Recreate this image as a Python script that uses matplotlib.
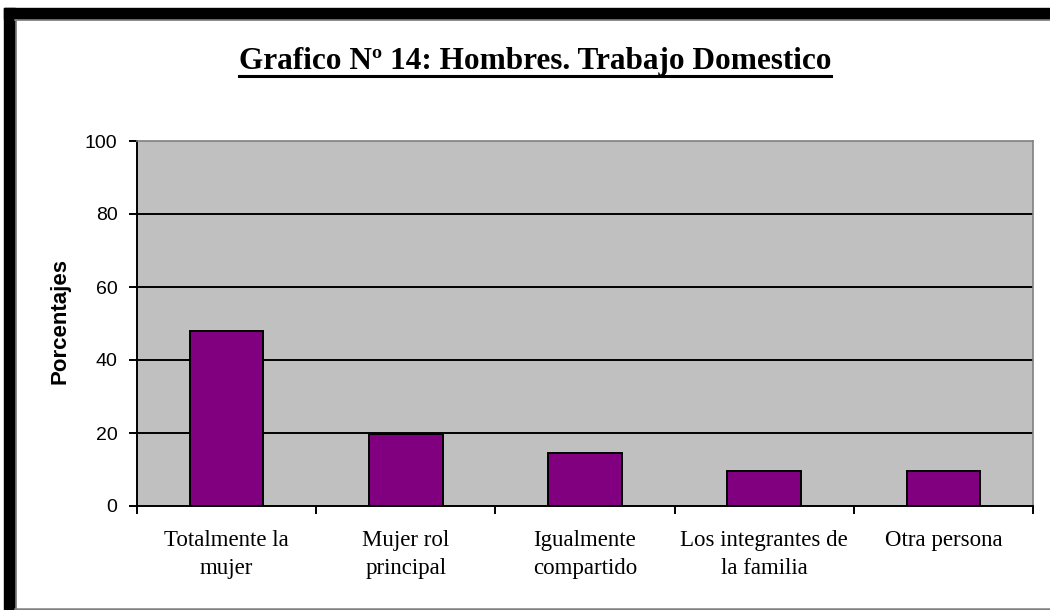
import matplotlib
matplotlib.use("Agg")
import matplotlib.pyplot as plt
from matplotlib.patches import Rectangle
from matplotlib.lines import Line2D

categories = ["Totalmente la\nmujer", "Mujer rol\nprincipal", "Igualmente\ncompartido",
              "Los integrantes de\nla familia", "Otra persona"]
values = [47.9, 19.7, 14.5, 9.6, 9.6]
yticks = [0, 20, 40, 60, 80, 100]
title = "Grafico Nº 14: Hombres. Trabajo Domestico"
ylabel = "Porcentajes"

W, H = 1050, 610
fig = plt.figure(figsize=(W / 100, H / 100), dpi=100)
fig.patch.set_facecolor("white")

def fx(px):
    return px / W

def fy(py):
    return 1 - py / H

# frame decoration (black shadow border)
fig.patches.append(Rectangle((fx(4), fy(19)), fx(1050) - fx(4), fy(8) - fy(19),
                             transform=fig.transFigure, color="black", zorder=0))
fig.patches.append(Rectangle((fx(4), fy(610)), fx(15) - fx(4), fy(8) - fy(610),
                             transform=fig.transFigure, color="black", zorder=0))
fig.lines.append(Line2D([fx(15), 1], [fy(20), fy(20)], transform=fig.transFigure,
                        color="#808080", lw=1.2))
fig.lines.append(Line2D([fx(16), fx(16)], [fy(20), 0], transform=fig.transFigure,
                        color="#808080", lw=1.2))
fig.lines.append(Line2D([fx(15), 1], [fy(608.5), fy(608.5)], transform=fig.transFigure,
                        color="#808080", lw=1.8))

ax = fig.add_axes([fx(137), fy(506), fx(1033) - fx(137), fy(141) - fy(506)])
ax.set_facecolor("#C0C0C0")

x = list(range(len(categories)))
ax.bar(x, values, width=0.41, color="#800080", edgecolor="black", linewidth=1.4, zorder=3)

ax.set_xlim(-0.5, len(categories) - 0.5)
ax.set_ylim(0, 100)
ax.set_yticks(yticks)
ax.set_yticklabels([str(v) for v in yticks], fontfamily="Liberation Sans", fontsize=14)
for v in yticks[1:-1]:
    ax.axhline(v, color="black", lw=1.4, zorder=2)

ax.set_xticks([i - 0.5 for i in range(len(categories) + 1)], minor=False)
ax.set_xticklabels([""] * (len(categories) + 1))
ax.set_xticks(x, minor=True)
ax.set_xticklabels(categories, minor=True, fontfamily="Liberation Serif", fontsize=16.5,
                   linespacing=1.45)
ax.tick_params(axis="x", which="major", direction="out", length=6, width=1.4, color="black")
ax.tick_params(axis="x", which="minor", length=0, pad=17)
ax.tick_params(axis="y", direction="out", length=6, width=1.4, color="black", pad=8)

for side in ["top", "right"]:
    ax.spines[side].set_color("#808080")
    ax.spines[side].set_linewidth(1.2)
ax.spines["left"].set_color("black")
ax.spines["left"].set_linewidth(1.4)
ax.spines["bottom"].set_color("black")
ax.spines["bottom"].set_linewidth(1.4)

fig.text(fx(60), fy(321), ylabel, rotation=90, ha="center", va="center",
         fontfamily="Liberation Sans", fontweight="bold", fontsize=16)

t = fig.text(fx(535), fy(61), title, ha="center", va="center", fontfamily="Liberation Serif",
             fontweight="bold", fontsize=22.5)
fig.canvas.draw()
bb = t.get_window_extent()
fig.lines.append(Line2D([bb.x0 / W, bb.x1 / W], [fy(75.5), fy(75.5)], transform=fig.transFigure,
                        color="black", lw=2.2))

fig.savefig("out.png", dpi=100)
